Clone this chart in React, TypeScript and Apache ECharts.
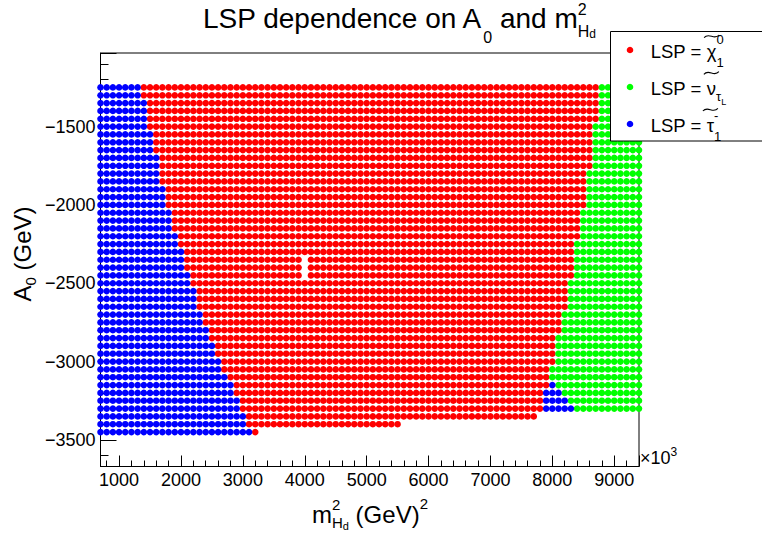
import React, { useEffect, useRef } from 'react';
import * as echarts from 'echarts';

// ---- scan grid (m_Hd^2 in 10^3 GeV^2, A0 in GeV) ----
const M2_HD = [700, 800, 900, 1000, 1100, 1200, 1300, 1400, 1500, 1600, 1700, 1800, 1900, 2000, 2100, 2200, 2300, 2400, 2500, 2600, 2700, 2800, 2900, 3000, 3100, 3200, 3300, 3400, 3500, 3600, 3700, 3800, 3900, 4000, 4100, 4200, 4300, 4400, 4500, 4600, 4700, 4800, 4900, 5000, 5100, 5200, 5300, 5400, 5500, 5600, 5700, 5800, 5900, 6000, 6100, 6200, 6300, 6400, 6500, 6600, 6700, 6800, 6900, 7000, 7100, 7200, 7300, 7400, 7500, 7600, 7700, 7800, 7900, 8000, 8100, 8200, 8300, 8400, 8500, 8600, 8700, 8800, 8900, 9000, 9100, 9200, 9300, 9400];
const A0 = [-1250, -1300, -1350, -1400, -1450, -1500, -1550, -1600, -1650, -1700, -1750, -1800, -1850, -1900, -1950, -2000, -2050, -2100, -2150, -2200, -2250, -2300, -2350, -2400, -2450, -2500, -2550, -2600, -2650, -2700, -2750, -2800, -2850, -2900, -2950, -3000, -3050, -3100, -3150, -3200, -3250, -3300, -3350, -3400, -3450];

// per A0 row: last m2 where LSP = stau (left region)
const STAU_LEFT_MAX = [1300, 1300, 1400, 1400, 1400, 1400, 1500, 1500, 1500, 1600, 1600, 1600, 1600, 1700, 1700, 1700, 1800, 1800, 1800, 1900, 1900, 2000, 2000, 2000, 2100, 2100, 2200, 2200, 2200, 2300, 2300, 2400, 2400, 2500, 2500, 2600, 2600, 2700, 2800, 2800, 2900, 2900, 3000, 3000, 3100];
// per A0 row: last m2 where LSP = neutralino
const NEUTRALINO_MAX = [8700, 8700, 8700, 8700, 8700, 8600, 8600, 8600, 8600, 8600, 8600, 8500, 8500, 8500, 8500, 8500, 8400, 8400, 8400, 8400, 8300, 8300, 8300, 8300, 8300, 8200, 8200, 8200, 8200, 8100, 8100, 8100, 8000, 8000, 8000, 8000, 7900, 7900, 7900, 7800, 7800, 7800, 7700, 5500, 3200];
// per A0 row: first m2 where LSP = tau sneutrino (null: none)
const SNEUTRINO_MIN: (number | null)[] = [8800, 8800, 8800, 8800, 8800, 8700, 8700, 8700, 8700, 8700, 8700, 8600, 8600, 8600, 8600, 8600, 8500, 8500, 8500, 8500, 8400, 8400, 8400, 8400, 8400, 8300, 8300, 8300, 8300, 8200, 8200, 8200, 8100, 8100, 8100, 8100, 8000, 8000, 8100, 8200, 8300, 8400, null, null, null];
// small stau pocket at the lower right
const STAU_RIGHT_ROWS = [-3150, -3200, -3250, -3300];
const STAU_RIGHT_MIN = [8000, 7900, 7900, 7900];
const STAU_RIGHT_MAX = [8000, 8100, 8200, 8300];
// scan points missing from the output
const HOLE_M2 = [4000, 4000, 4000];
const HOLE_A0 = [-2350, -2400, -2450];

const FONT = '"Liberation Sans", Arial, Helvetica, sans-serif';
const K = 0.3467;

let measureCtx: CanvasRenderingContext2D | null = null;
function tw(t: string, s: number): number {
  if (!measureCtx) measureCtx = document.createElement('canvas').getContext('2d');
  measureCtx!.font = `${s}px ${FONT}`;
  return measureCtx!.measureText(t).width;
}

// pieces of a TLatex-like string; `tilde` marks an accent drawn over the previous glyph
type Piece = { t: string; s: number; dy?: number; stack?: boolean; tilde?: boolean };
function run(pieces: Piece[], x0: number, base: number, anchor: 'left' | 'center'): any[] {
  let cur = 0;
  let lastStart = 0;
  let lastW = 0;
  const pos: number[] = [];
  const widths: number[] = [];
  pieces.forEach((p) => {
    if (p.tilde) {
      pos.push(lastStart + lastW / 2);
      widths.push(0);
      return;
    }
    const w = tw(p.t, p.s);
    widths.push(w);
    if (p.stack) {
      pos.push(lastStart);
      lastW = Math.max(lastW, w);
      cur = lastStart + lastW;
    } else {
      pos.push(cur);
      lastStart = cur;
      lastW = w;
      cur = cur + w;
    }
  });
  const off = anchor === 'center' ? x0 - cur / 2 : x0;
  return pieces.map((p, i) => {
    if (p.tilde) {
      const cx = off + pos[i];
      const cy = base + (p.dy || 0);
      const hw = p.s / 2;
      return {
        type: 'bezierCurve',
        z: 100,
        silent: true,
        shape: {
          x1: cx - hw, y1: cy + 1.3,
          cpx1: cx - hw / 3, cpy1: cy - 4.6,
          cpx2: cx + hw / 3, cpy2: cy + 4.6,
          x2: cx + hw, y2: cy - 1.3,
        },
        style: { stroke: '#000', lineWidth: 1.1, fill: 'none' },
      };
    }
    return {
      type: 'text',
      z: 100,
      silent: true,
      style: {
        text: p.t,
        x: off + pos[i],
        y: base + (p.dy || 0) - K * p.s,
        font: `${p.s}px ${FONT}`,
        fill: '#000',
        align: 'left',
        verticalAlign: 'middle',
        textAlign: 'left',
        textVerticalAlign: 'middle',
      },
    };
  });
}

function buildData() {
  const red: number[][] = [];
  const green: number[][] = [];
  const blue: number[][] = [];
  const isHole = (m: number, a: number) => HOLE_M2.some((hm, k) => hm === m && HOLE_A0[k] === a);
  A0.forEach((a, i) => {
    const ri = STAU_RIGHT_ROWS.indexOf(a);
    const gmin = SNEUTRINO_MIN[i];
    M2_HD.forEach((m) => {
      if (m <= STAU_LEFT_MAX[i]) blue.push([m, a]);
      else if (m <= NEUTRALINO_MAX[i]) {
        if (!isHole(m, a)) red.push([m, a]);
      } else if (ri >= 0 && m >= STAU_RIGHT_MIN[ri] && m <= STAU_RIGHT_MAX[ri]) blue.push([m, a]);
      else if (gmin !== null && m >= gmin) green.push([m, a]);
    });
  });
  return { red, green, blue };
}

export default function App() {
  const ref = useRef<HTMLDivElement>(null);
  useEffect(() => {
    const chart = echarts.init(ref.current!, undefined, { renderer: 'svg' });
    const { red, green, blue } = buildData();
    const ser = (name: string, data: number[][], color: string) => ({
      type: 'scatter',
      name,
      data,
      symbol: 'circle',
      symbolSize: 6.6,
      itemStyle: { color, opacity: 1 },
      silent: true,
      progressive: 0,
      animation: false,
    });

    const tilde: Piece = { t: '', s: 15, dy: -22, tilde: true };
    const legendRows = [
      { color: '#ff0000', y: 50, base: 58.3, pieces: [{ t: 'LSP = ', s: 18.5 }, { t: '\u03c7', s: 18.5 }, tilde, { t: '0', s: 13, dy: -14 }, { t: '1', s: 13, dy: 9, stack: true }] },
      { color: '#00ff00', y: 87, base: 95, pieces: [{ t: 'LSP = ', s: 18.5 }, { t: '\u03bd', s: 18.5 }, tilde, { t: '\u03c4', s: 13, dy: 6 }, { t: 'L', s: 9, dy: 10 }] },
      { color: '#0000ff', y: 124, base: 131.7, pieces: [{ t: 'LSP = ', s: 18.5 }, { t: '\u03c4', s: 18.5 }, tilde, { t: '-', s: 13, dy: -12 }, { t: '1', s: 13, dy: 9, stack: true }] },
    ];

    const graphics: any[] = [
      // title
      ...run([
        { t: 'LSP dependence on A', s: 28 },
        { t: '0', s: 16, dy: 15 },
        { t: ' and m', s: 28 },
        { t: '2', s: 16, dy: -13.3 },
        { t: 'H', s: 16, dy: 8.4, stack: true },
        { t: 'd', s: 12, dy: 10.2 },
      ], 203, 28.3, 'left'),
      // x axis title
      ...run([
        { t: 'm', s: 24 },
        { t: '2', s: 15, dy: -13 },
        { t: 'H', s: 15, dy: 5, stack: true },
        { t: 'd', s: 11, dy: 7 },
        { t: ' (GeV)', s: 24 },
        { t: '2', s: 15, dy: -14.5 },
      ], 370, 523, 'center'),
      // x10^3
      ...run([{ t: '\u00d710', s: 18 }, { t: '3', s: 12, dy: -8 }], 640, 464, 'left'),
      // y axis title
      {
        type: 'group',
        x: 31,
        y: 254,
        rotation: Math.PI / 2,
        z: 100,
        children: run([
          { t: 'A', s: 24 },
          { t: '0', s: 15, dy: 5 },
          { t: ' (GeV)', s: 24 },
        ], 0, 0, 'center'),
      },
      // legend box
      {
        type: 'rect',
        z: 100,
        silent: true,
        shape: { x: 610.5, y: 31.5, width: 200, height: 109.5 },
        style: { fill: '#fff', stroke: '#000', lineWidth: 1 },
      },
      ...legendRows.map((r) => ({
        type: 'circle',
        z: 101,
        silent: true,
        shape: { cx: 630, cy: r.y, r: 3.3 },
        style: { fill: r.color },
      })),
      ...legendRows.flatMap((r) => run(r.pieces as Piece[], 650.7, r.base, 'left').map((e) => ({ ...e, z: 101 }))),
    ];

    chart.setOption({
      animation: false,
      backgroundColor: '#fff',
      textStyle: { fontFamily: FONT },
      grid: {
        left: 100.5,
        top: 53,
        width: 538.5,
        height: 413.5,
        show: true,
        borderColor: '#000',
        borderWidth: 1,
        backgroundColor: 'transparent',
      },
      xAxis: {
        type: 'value',
        min: 700,
        max: 9400,
        splitNumber: 8,
        axisLine: { show: true, onZero: false, lineStyle: { color: '#000', width: 1 } },
        axisTick: { show: true, inside: true, length: 11, lineStyle: { color: '#000', width: 1 } },
        minorTick: { show: true, splitNumber: 5, length: 6, lineStyle: { color: '#000', width: 1 } },
        splitLine: { show: false },
        axisLabel: {
          color: '#000',
          fontSize: 18,
          fontFamily: FONT,
          margin: 4,
          showMinLabel: false,
          showMaxLabel: false,
          formatter: (v: number) => String(v),
        },
      },
      yAxis: {
        type: 'value',
        min: -3670,
        max: -1030,
        splitNumber: 5,
        axisLine: { show: true, onZero: false, lineStyle: { color: '#000', width: 1 } },
        axisTick: { show: true, inside: true, length: 16, lineStyle: { color: '#000', width: 1 } },
        minorTick: { show: true, splitNumber: 5, length: 8, lineStyle: { color: '#000', width: 1 } },
        splitLine: { show: false },
        axisLabel: {
          color: '#000',
          fontSize: 18,
          fontFamily: FONT,
          margin: 5,
          showMinLabel: false,
          showMaxLabel: false,
          formatter: (v: number) => String(v).replace('-', '\u2212'),
        },
      },
      series: [
        ser('LSP = \u03c7\u0303\u2081\u2070', red, '#ff0000'),
        ser('LSP = \u03bd\u0303\u03c4L', green, '#00ff00'),
        ser('LSP = \u03c4\u0303\u2081\u207b', blue, '#0000ff'),
      ],
      graphic: graphics,
    });
    return () => chart.dispose();
  }, []);
  return (
    <div
      ref={ref}
      style={{ position: 'fixed', left: 0, top: 0, width: 762, height: 533, background: '#fff' }}
    />
  );
}
